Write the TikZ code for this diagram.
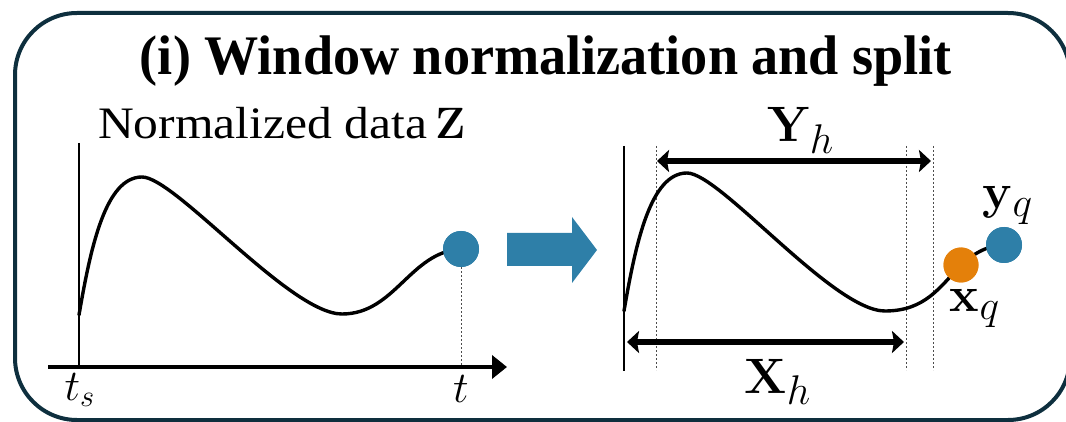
\documentclass[tikz,border=0pt]{standalone}
\usepackage{graphicx}
\usepackage[no-math]{fontspec}
\setmainfont{Liberation Serif}
\usetikzlibrary{arrows.meta}
\definecolor{framecol}{RGB}{14,47,62}
\definecolor{dotblue}{RGB}{46,127,168}
\definecolor{dotorange}{RGB}{228,128,10}
\newcommand\fsz[1]{\fontsize{#1}{#1}\selectfont}
\newcommand\mbig[1]{\scalebox{2}{\fsz{24.88}$#1$}}
\newcommand\mmid[1]{\scalebox{2.12}{\fsz{20.74}#1}}
\begin{document}
\begin{tikzpicture}[x=1pt,y=-1pt,
  framebox/.style={draw=framecol, line width=4pt, rounded corners=62pt},
  curve/.style={line width=3.4pt, line cap=round},
  axisline/.style={line width=1.5pt},
  guide/.style={line width=0.9pt, dash pattern=on 2pt off 2pt, black!70},
  span/.style={line width=6pt, {Stealth[length=12pt,width=22pt,inset=2pt]}-{Stealth[length=12pt,width=22pt,inset=2pt]}},
  bdot/.style={circle, fill=dotblue, minimum size=36pt, inner sep=0pt},
  odot/.style={circle, fill=dotorange, minimum size=35pt, inner sep=0pt},
  lbl/.style={anchor=base, inner sep=0pt},
  bigarrow/.style={fill=dotblue}]
\useasboundingbox (0,0) rectangle (1066,422);
\draw[framebox] (15,13) rectangle (1070,420);

% title
\node[lbl] (title) at (546,75) {\scalebox{1}[1.03]{\fsz{54.2}\bfseries (i) Window normalization and split}};
\node[lbl, anchor=base west] (zlabel) at (98,139) {\scalebox{2.39}[2.17]{\fsz{20.74}Normalized data}\hspace{8pt}\mmid{$\mathbf{Z}$}};

% left plot
\coordinate (lax0) at (79,143);
\coordinate (lax1) at (79,367);
\coordinate (hax0) at (48,367);
\coordinate (hax1) at (507,367);
\draw[axisline] (lax0) -- (lax1);
\draw[line width=4pt, -{Triangle[length=15pt,width=23pt]}] (hax0) -- (hax1);
\node[bdot] (zdot) at (461,249) {};
\coordinate (tfoot) at (461,367);
\draw[guide] (zdot.south) -- (tfoot);
\coordinate (c0) at (79,315);
\draw[curve] (c0) .. controls (91,245) and (106,177) .. (142,177)
  .. controls (175,177) and (290,314) .. (342,314)
  .. controls (395,314) and (410,252) .. (zdot.center);
\node[bdot] at (zdot) {};
\node[lbl] (ts) at (80,400) {\mmid{$t_s$}};
\node[lbl] (tt) at (461,402) {\mmid{$t$}};

% big arrow
\fill[bigarrow] (507,233) -- (572,233) -- (572,217) -- (597,250) -- (572,283) -- (572,266) -- (507,266) -- cycle;

% right plot
\coordinate (rax0) at (624,146);
\coordinate (rax1) at (624,371);
\draw[axisline] (rax0) -- (rax1);
\foreach \gx/\gn in {656/ga, 906/gb, 933/gc} {
  \coordinate (\gn0) at (\gx,146);
  \coordinate (\gn1) at (\gx,370);
  \draw[guide] (\gn0) -- (\gn1);
}
\node[odot] (xq) at (961,265) {};
\node[bdot] (yq) at (1004,245) {};
\coordinate (r0) at (624,311);
\draw[curve] (r0) .. controls (636,241) and (651,173) .. (687,173)
  .. controls (720,173) and (833,311) .. (885,311)
  .. controls (925,311) and (940,287) .. (xq.center)
  .. controls (975,252) and (990,245) .. (yq.center);
\node[odot] at (xq) {};
\node[bdot] at (yq) {};

\coordinate (yh0) at (657,161);
\coordinate (yh1) at (931,161);
\draw[span] (yh0) -- (yh1);
\coordinate (xh0) at (627,342);
\coordinate (xh1) at (904,342);
\draw[span] (xh0) -- (xh1);

\node[lbl] (yhl) at (801,142) {\mbig{\mathbf{Y}_h}};
\node[lbl] (xhl) at (778,393) {\mbig{\mathbf{X}_h}};
\node[lbl] (yql) at (1008,209) {\mbig{\mathbf{y}_q}};
\node[lbl] (xql) at (975,312) {\mbig{\mathbf{x}_q}};
\end{tikzpicture}
\end{document}
